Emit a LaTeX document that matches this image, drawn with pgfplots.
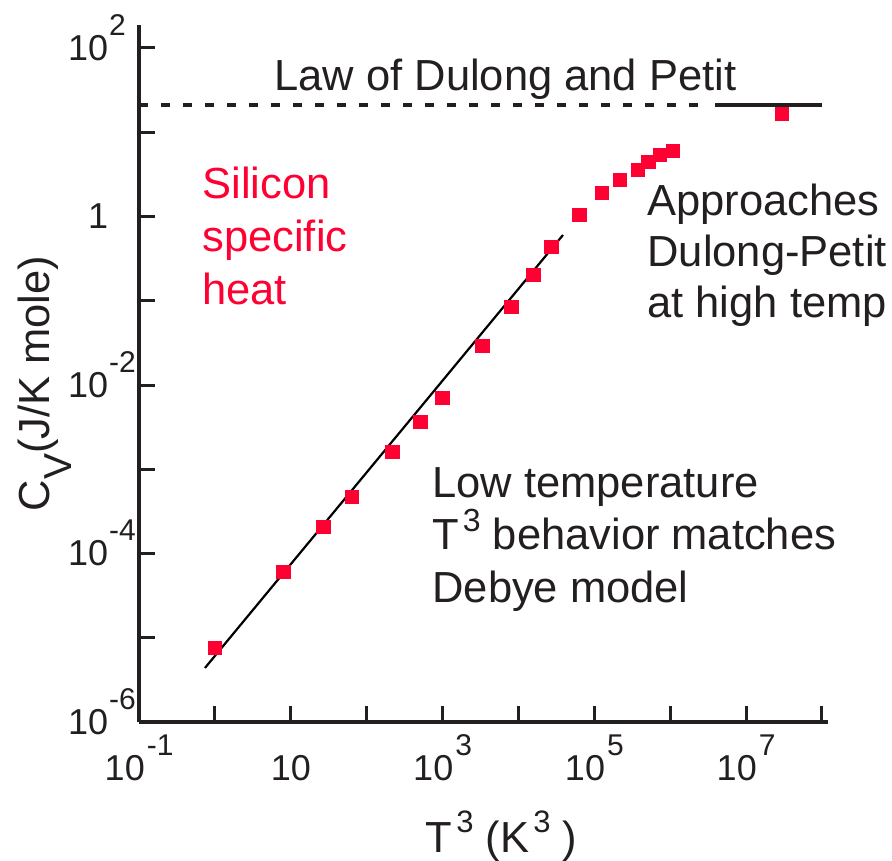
\documentclass[border=0pt]{standalone}
\usepackage{pgfplots}
\pgfplotsset{compat=1.18}
\usepackage{fontspec}
\setmainfont{Liberation Sans}
\definecolor{dk}{RGB}{35,31,32}
\definecolor{rd}{RGB}{255,0,51}
\newcommand{\xl}[2]{#1\hspace{1pt}\raisebox{12.5pt}{\fontsize{15}{15}\selectfont #2}}
\newcommand{\yl}[2]{#1\rlap{\hspace{0.5pt}\smash{\raisebox{12.5pt}{\fontsize{15}{15}\selectfont #2}}}}
\newcommand{\sups}[1]{\raisebox{9pt}{\fontsize{16}{16}\selectfont #1}}
\begin{document}
\begin{tikzpicture}
\begin{axis}[
  at={(0,0)}, anchor=south west,
  scale only axis, width=344.47pt, height=348.37pt,
  xmode=log, ymode=log,
  xmin=0.1, xmax=1.2023e8, ymin=1e-6, ymax=186.2,
  axis lines=left,
  axis line style={dk, line width=1.75pt, -},
  x axis line style={-}, y axis line style={-},
  xtick={0.1,1,10,100,1000,1e4,1e5,1e6,1e7,1e8},
  xticklabels={\xl{10}{-1},,10,,\xl{10}{3},,\xl{10}{5},,\xl{10}{7},},
  ytick={1e-6,1e-5,1e-4,1e-3,1e-2,1e-1,1,10,100},
  yticklabels={\yl{10}{-6},,\yl{10}{-4},,\yl{10}{-2},,1,,\yl{10}{2}},
  xminorticks=false, yminorticks=false,
  tick align=inside, major tick length=8pt,
  tick style={dk, line width=1.5pt},
  xticklabel style={anchor=base, yshift=-29pt, inner sep=0pt, font=\fontsize{18}{18}\selectfont, text=dk},
  yticklabel style={anchor=east, xshift=-15.3pt, inner sep=0pt, font=\fontsize{18}{18}\selectfont, text=dk},
]
\addplot[only marks, mark=square*, mark size=3.4pt, color=rd, mark options={draw=none, fill=rd}] coordinates {
 (1,7.6e-6) (8,6.03e-5) (27,2.07e-4) (64,4.69e-4) (216,1.60e-3) (512,3.64e-3)
 (1000,7.02e-3) (3375,0.029) (8000,0.0843) (15625,0.202) (27000,0.435)
 (64000,1.04) (125000,1.90) (216000,2.71) (376000,3.56) (512000,4.43)
 (729000,5.37) (1.09e6,6.0) (2.97e7,16.5)
};
\addplot[black, line width=1.1pt] coordinates {(0.738,4.38e-6) (38600,0.603)};
\addplot[dk, line width=1.8pt, dash pattern=on 4.5pt off 6.5pt] coordinates {(0.1,21.05) (2.87e6,21.05)};
\addplot[dk, line width=2pt] coordinates {(3.89e6,21.05) (1e8,21.05)};
\end{axis}
\begin{scope}[every node/.style={inner sep=0pt, font=\fontsize{21.75}{21.75}\selectfont, text=dk, anchor=base west}]
\node at (67.45pt,315.5pt) {Law of Dulong and Petit};
\node[text=rd] at (31.45pt,261.5pt) {Silicon};
\node[text=rd] at (31.45pt,235pt) {specific};
\node[text=rd] at (31.45pt,208.5pt) {heat};
\node at (253.95pt,253pt) {Approaches};
\node at (253.95pt,227.5pt) {Dulong-Petit};
\node at (253.95pt,202pt) {at high temp};
\node at (146.45pt,112pt) {Low temperature};
\node at (146.45pt,86pt) {T\hspace{2pt}\sups{3} behavior matches};
\node at (146.45pt,59.5pt) {Debye model};
\node[anchor=base, rotate=90] at (-44.55pt,169.25pt) {C\raisebox{-11pt}{\fontsize{19.5}{19.5}\selectfont V}(J/K mole)};
\node[anchor=base] at (181.2pt,-65pt) {T\hspace{2pt}\raisebox{10pt}{\fontsize{15.5}{15.5}\selectfont 3} (K\hspace{2pt}\raisebox{10pt}{\fontsize{15.5}{15.5}\selectfont 3} )};
\end{scope}
\pgfresetboundingbox
\path[use as bounding box] (-69.55pt,-69pt) rectangle (376.45pt,361pt);
\end{tikzpicture}
\end{document}
